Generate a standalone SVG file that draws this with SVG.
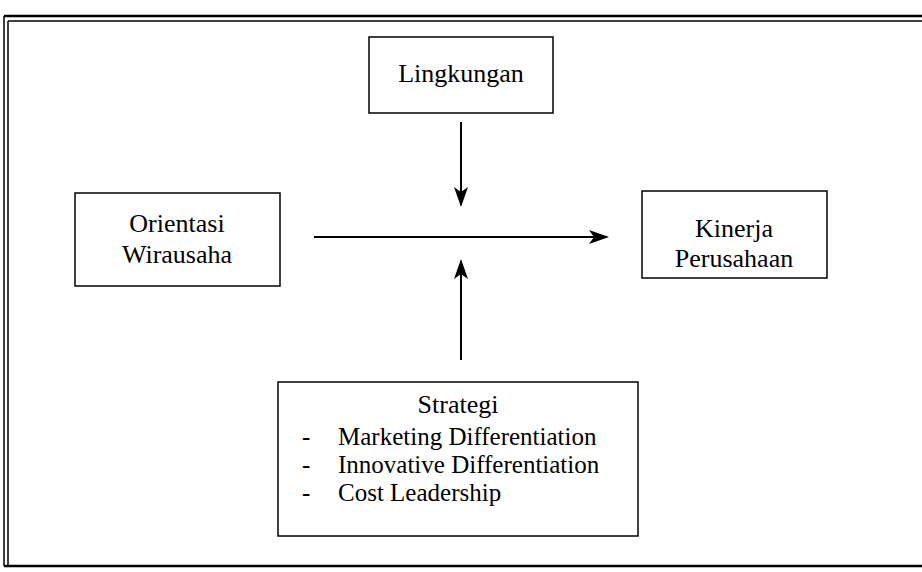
<svg xmlns="http://www.w3.org/2000/svg" width="922" height="572" viewBox="0 0 922 572">
<defs>
<style>
.box{fill:#fff;stroke:#000;stroke-width:1.5}
.t{font-family:"Liberation Serif","Times New Roman",serif;font-size:26px;fill:#000}
.s{font-size:25px}
.c{stroke:#000;stroke-width:2;fill:none}
</style>
<marker id="ah" viewBox="0 0 20 14" refX="18" refY="7" markerWidth="20" markerHeight="14" markerUnits="userSpaceOnUse" orient="auto">
<path d="M0,0 L20,7 L0,14 L5,7 Z" fill="#000"/>
</marker>
</defs>
<rect width="922" height="572" fill="#fff"/>
<g id="frame" fill="none" stroke="#000">
<path d="M4,16 L922,16" stroke-width="2.5"/>
<path d="M8,21 L922,21" stroke-width="1.5"/>
<path d="M4,16 L4,566" stroke-width="1.5"/>
<path d="M8,21 L8,566" stroke-width="1.5"/>
<path d="M4,566 L922,566" stroke-width="2.5"/>
</g>
<g id="connectors">
<line class="c" x1="461" y1="122" x2="461" y2="205" marker-end="url(#ah)"/>
<line class="c" x1="314" y1="237" x2="607" y2="237" marker-end="url(#ah)"/>
<line class="c" x1="461" y1="360" x2="461" y2="261" marker-end="url(#ah)"/>
</g>
<g id="lingkungan">
<rect class="box" x="369" y="37" width="184" height="76"/>
<text class="t" x="461" y="82" text-anchor="middle">Lingkungan</text>
</g>
<g id="orientasi">
<rect class="box" x="75" y="193" width="205" height="93"/>
<text class="t" x="177" y="232" text-anchor="middle">Orientasi</text>
<text class="t" x="177" y="263" text-anchor="middle">Wirausaha</text>
</g>
<g id="kinerja">
<rect class="box" x="642" y="191" width="185" height="87"/>
<text class="t" x="734" y="237" text-anchor="middle">Kinerja</text>
<text class="t" x="734" y="267" text-anchor="middle">Perusahaan</text>
</g>
<g id="strategi">
<rect class="box" x="278" y="382" width="360" height="154"/>
<text class="t" x="458" y="413" text-anchor="middle">Strategi</text>
<text class="t s" x="302" y="445">-</text>
<text class="t s" x="338" y="445">Marketing Differentiation</text>
<text class="t s" x="302" y="473">-</text>
<text class="t s" x="338" y="473">Innovative Differentiation</text>
<text class="t s" x="302" y="501">-</text>
<text class="t s" x="338" y="501">Cost Leadership</text>
</g>
</svg>
